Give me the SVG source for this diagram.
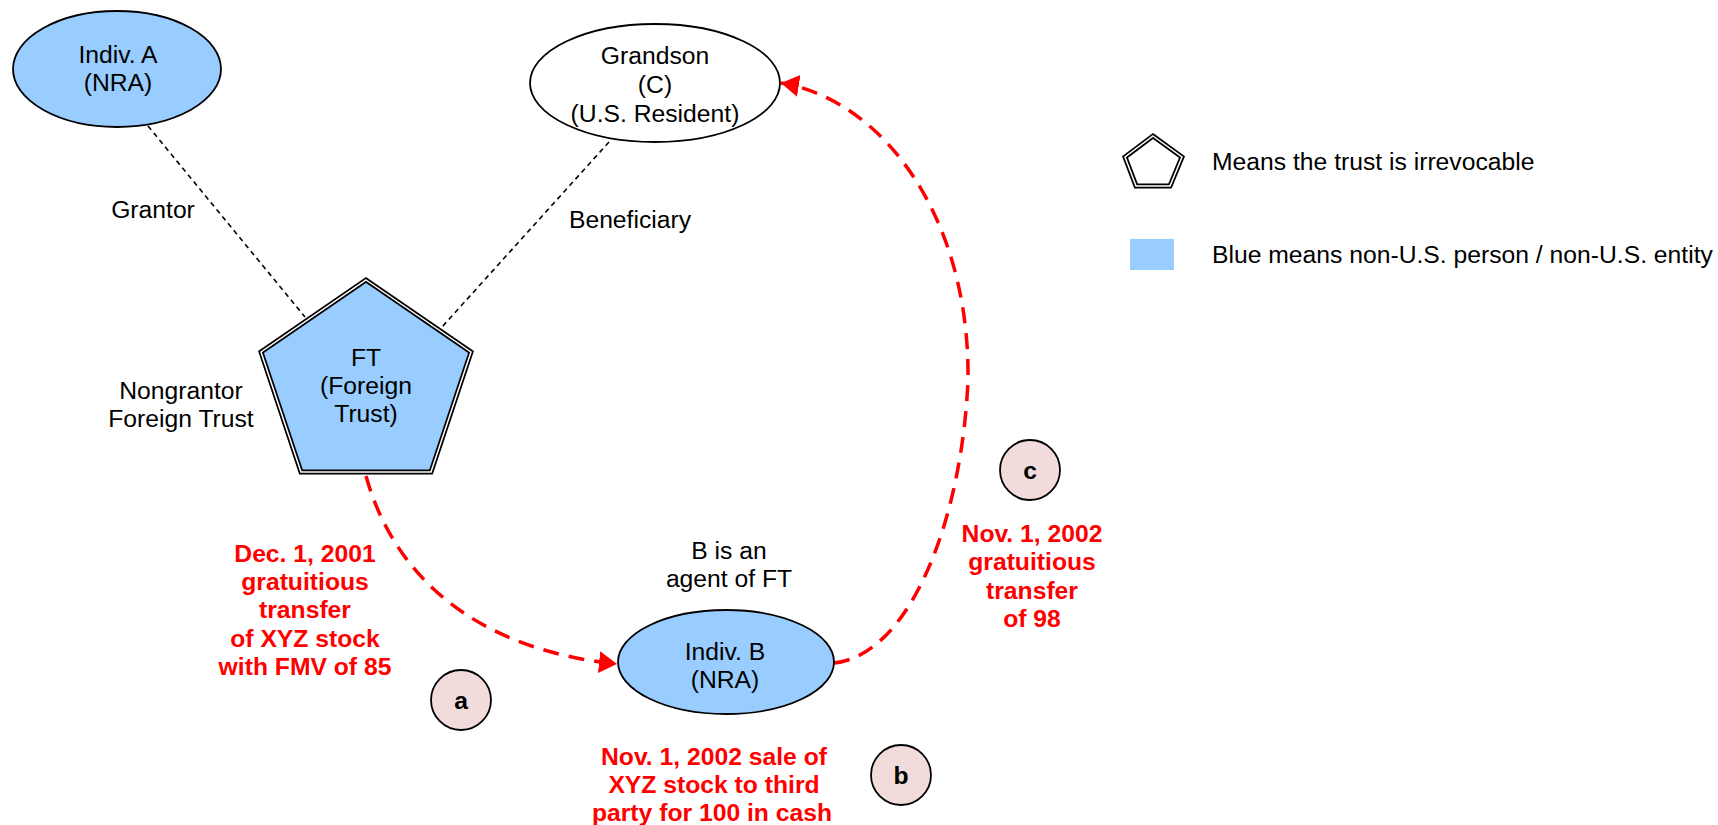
<svg xmlns="http://www.w3.org/2000/svg" width="1718" height="825" viewBox="0 0 1718 825">
<style>
text{font-family:"Liberation Sans",Arial,sans-serif;font-size:24.7px;fill:#000;text-anchor:middle}
.l{text-anchor:start}
.r{fill:#f00;font-weight:bold}
.b{font-weight:bold}
.blue{fill:#99ccff;stroke:#000;stroke-width:1.8}
.white{fill:#fff;stroke:#000;stroke-width:1.8}
.dbl{stroke:#000;stroke-width:5;stroke-linejoin:miter}
.dblin{fill:none;stroke:#fff;stroke-width:1.5;stroke-linejoin:miter}
.thin{fill:none;stroke:#000;stroke-width:1.6;stroke-dasharray:5 4}
.red{fill:none;stroke:#f00;stroke-width:3.5;stroke-dasharray:16 10}
.pink{fill:#f2dcdb;stroke:#000;stroke-width:1.8}
</style>
<defs>
<marker id="ah" markerWidth="20" markerHeight="24" refX="18" refY="11" orient="auto" markerUnits="userSpaceOnUse">
<path d="M0,0 L18,11 L0,22 z" fill="#f00"/>
</marker>
</defs>
<rect width="1718" height="825" fill="#fff"/>

<g id="connectors">
<line class="thin" x1="148" y1="126" x2="305" y2="317"/>
<line class="thin" x1="609" y1="142" x2="442" y2="327"/>
<path class="red" d="M366,476 C395,580 480,650 617,664" marker-end="url(#ah)"/>
<path class="red" d="M834,663 C910,655 962,520 968,380 C970,220 885,100 781,83" marker-end="url(#ah)"/>
</g>

<g id="indivA">
<ellipse class="blue" cx="117" cy="69" rx="104" ry="58"/>
<text x="118" y="63">Indiv. A</text>
<text x="118" y="91">(NRA)</text>
</g>

<g id="grandson">
<ellipse class="white" cx="655" cy="83" rx="125" ry="59"/>
<text x="655" y="64">Grandson</text>
<text x="655" y="93">(C)</text>
<text x="655" y="122">(U.S. Resident)</text>
</g>

<g id="ft">
<polygon class="dbl" fill="#99ccff" points="366,280 471,352 431,472 301,472 261,352"/>
<polygon class="dblin" points="366,280 471,352 431,472 301,472 261,352"/>
<text x="366" y="366">FT</text>
<text x="366" y="394">(Foreign</text>
<text x="366" y="422">Trust)</text>
</g>

<g id="indivB">
<ellipse class="blue" cx="726" cy="662" rx="108" ry="52"/>
<text x="725" y="660">Indiv. B</text>
<text x="725" y="688">(NRA)</text>
</g>

<g id="labels">
<text x="153" y="218">Grantor</text>
<text x="630" y="228">Beneficiary</text>
<text x="181" y="399">Nongrantor</text>
<text x="181" y="427">Foreign Trust</text>
<text x="729" y="559">B is an</text>
<text x="729" y="587">agent of FT</text>
</g>

<g id="note-a">
<text class="r" x="305" y="562">Dec. 1, 2001</text>
<text class="r" x="305" y="590">gratuitious</text>
<text class="r" x="305" y="618">transfer</text>
<text class="r" x="305" y="647">of XYZ stock</text>
<text class="r" x="305" y="675">with FMV of 85</text>
</g>
<g id="note-b">
<text class="r" x="714" y="765">Nov. 1, 2002 sale of</text>
<text class="r" x="714" y="793">XYZ stock to third</text>
<text class="r" x="712" y="821">party for 100 in cash</text>
</g>
<g id="note-c">
<text class="r" x="1032" y="542">Nov. 1, 2002</text>
<text class="r" x="1032" y="570">gratuitious</text>
<text class="r" x="1032" y="599">transfer</text>
<text class="r" x="1032" y="627">of 98</text>
</g>

<g id="step-a">
<circle class="pink" cx="461" cy="700" r="30"/>
<text class="b" x="461" y="709">a</text>
</g>
<g id="step-b">
<circle class="pink" cx="901" cy="775" r="30"/>
<text class="b" x="901" y="784">b</text>
</g>
<g id="step-c">
<circle class="pink" cx="1030" cy="470" r="30"/>
<text class="b" x="1030" y="479">c</text>
</g>

<g id="legend">
<polygon class="dbl" fill="#fff" points="1153,136 1182,157 1170,186 1136,186 1125,157"/>
<polygon class="dblin" points="1153,136 1182,157 1170,186 1136,186 1125,157"/>
<text class="l" x="1212" y="170">Means the trust is irrevocable</text>
<rect x="1130" y="239" width="44" height="31" fill="#99ccff"/>
<text class="l" x="1212" y="263">Blue means non-U.S. person / non-U.S. entity</text>
</g>
</svg>
